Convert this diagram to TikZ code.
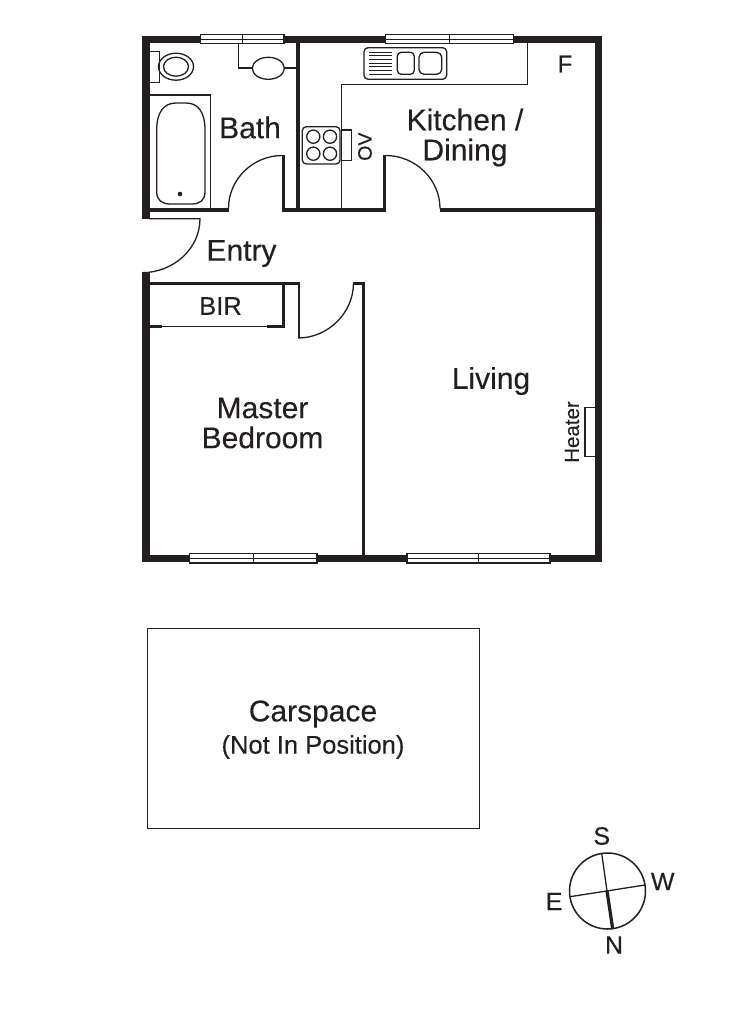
\documentclass[tikz,border=0pt]{standalone}
\usepackage{fontspec}
\setmainfont{Liberation Sans}[FakeBold=0.15]
\definecolor{ink}{HTML}{231F20}
\tikzset{
  wall/.style={fill=ink,draw=none},
  thinline/.style={draw=ink,line width=1.3pt},
  doorarc/.style={draw=ink,line width=1.3pt},
  win/.style={draw=ink,fill=white,line width=1.1pt},
  lab/.style={text=ink,inner sep=0pt,align=center},
  big/.style={lab,font=\fontsize{30}{30}\selectfont},
  small/.style={lab,font=\fontsize{25.5}{27}\selectfont},
  compasslab/.style={lab,font=\fontsize{25}{25}\selectfont},
}
\newcommand{\wallrect}[4]{\fill[wall] (#1,#2) rectangle (#3,#4);}
\newcommand{\windowh}[4]{% x1,x2,y1,y2
  \pgfmathsetmacro{\wmx}{(#1+#2)/2}\pgfmathsetmacro{\wmy}{(#3+#4)/2}
  \draw[win] (#1,#3) rectangle (#2,#4);
  \draw[draw=ink,line width=1pt] (#1,\wmy) -- (#2,\wmy);
  \draw[draw=ink,line width=1pt] (\wmx,#3) -- (\wmx,#4);}
\begin{document}
\begin{tikzpicture}[x=1pt,y=-1pt]
\useasboundingbox (0,0) rectangle (750,1027);
\fill[white] (0,0) rectangle (750,1027);
% outer walls
\wallrect{142}{36}{602}{43.3}
\wallrect{595}{36}{602}{562}
\wallrect{142}{554.5}{602}{562}
\wallrect{142}{36}{149.5}{219}
\wallrect{142}{272.7}{149.5}{562}
% interior walls
\wallrect{296}{43}{300}{211.5}
\wallrect{149}{207.8}{228.5}{211.5}
\wallrect{282.3}{207.8}{385.7}{211.5}
\wallrect{440}{207.8}{595}{211.5}
\wallrect{282.3}{155}{284.6}{211}
\wallrect{383.4}{155}{385.7}{211}
\wallrect{149}{281.8}{299.5}{285.3}
\wallrect{281.8}{282}{285}{328.3}
\wallrect{297.5}{282}{299.5}{338}
\wallrect{353}{281.8}{365}{285.3}
\wallrect{361.8}{282}{365}{555}
\wallrect{149}{325}{162}{328.3}
\wallrect{267}{325}{285}{328.3}
\draw[thinline] (162,326.6) -- (267,326.6);
% windows
\windowh{200.7}{284}{34.7}{43.7}
\windowh{385.7}{513.7}{34.7}{43.7}
\windowh{189.5}{317}{553.5}{563}
\windowh{407}{550}{553.5}{563}
% doors
\draw[doorarc] (282.5,155.5) .. controls (252.5,155.5) and (228.5,179.5) .. (228.5,208.5);
\draw[doorarc] (385.5,155.5) .. controls (415.5,155.5) and (440,179.5) .. (440,208.5);
\draw[doorarc] (149,218.7) -- (200,218.7) .. controls (200,249) and (173,272.7) .. (142,272.7);
\draw[doorarc] (298,338) .. controls (328,338) and (353.5,313) .. (353.5,283);
% toilet
\draw[thinline] (149,51.7) rectangle (159.3,82.3);
\draw[thinline] (176,66.7) ellipse [x radius=17.5,y radius=13.5];
\draw[thinline] (176,66.7) ellipse [x radius=12.5,y radius=9.5];
% basin
\draw[thinline] (238.7,43) -- (238.7,68) -- (296,68);
\draw[thinline,fill=white] (268.3,68.3) ellipse [x radius=16,y radius=11];
% bath
\draw[thinline] (149,95) -- (210.7,95) -- (210.7,208);
\draw[thinline] (156.7,130) .. controls (156.7,112) and (164,103) .. (176,103) -- (186,103) .. controls (198,103) and (205,112) .. (205,130) -- (205,192) .. controls (205,200) and (200,204) .. (192,204) -- (170,204) .. controls (162,204) and (156.7,200) .. (156.7,192) -- cycle;
\fill[ink] (180,194) circle (2.3);
% kitchen bench
\draw[thinline] (341.7,208) -- (341.7,84.3) -- (527.3,84.3) -- (527.3,43);
% sink
\draw[thinline,rounded corners=4pt] (364,47.7) rectangle (446.7,79.3);
\draw[thinline,rounded corners=4pt] (397.3,52.3) rectangle (414.3,74.3);
\draw[thinline,rounded corners=5pt] (419,52.3) rectangle (441.7,74.3);
\foreach \yy in {52.3,56,59.6,63.3,67,70.6,74.3}
  \draw[draw=ink,line width=1pt] (369.3,\yy) -- (392.3,\yy);
% cooktop
\draw[thinline,rounded corners=4pt] (302.3,126.7) rectangle (340,164);
\foreach \cx/\cy in {313.3/136.7,330/136.7,313.3/153.7,330/153.7}
  \draw[thinline] (\cx,\cy) circle (6.6);
\draw[thinline] (341.7,130) rectangle (351.7,160.7);
% heater
\draw[thinline] (595,407.3) -- (585,407.3) -- (585,456.7) -- (595,456.7);
% carspace
\draw[draw=ink,line width=0.9pt] (147,628) rectangle (479,828);
% compass
\draw[draw=ink,line width=1.5pt] (607.5,891) circle (38);
\coordinate (compS) at (601.7,853.3);
\coordinate (compN) at (612.7,929);
\coordinate (compC) at (607,891);
\coordinate (compE) at (570,896.7);
\coordinate (compW) at (645,885);
\draw[thinline] (compS) -- (compC);
\draw[draw=ink,line width=3.2pt] (compC) -- (compN);
\draw[thinline] (compE) -- (compW);
% labels
\node[big] (bath) at (250,127.5) {Bath};
\node[big] (kitchen) at (465,137.5) {Kitchen /\\Dining};
\node[big] (entry) at (241.5,253.5) {Entry};
\node[small] (bir) at (220.5,306) {BIR};
\node[big] (living) at (491,381) {Living};
\node[big] (master) at (262.5,423) {Master\\Bedroom};
\node[big] (carspace) at (313,714) {Carspace};
\node[small] (notin) at (313,747) {(Not In Position)};
\node[lab,font=\fontsize{24}{24}\selectfont] (fridge) at (565,64) {F};
\node[lab,rotate=90,font=\fontsize{19.5}{20}\selectfont] (ov) at (365,146.7) {OV};
\node[lab,rotate=90,font=\fontsize{20.5}{20}\selectfont] (heater) at (572,432) {Heater};
\node[compasslab] (s) at (601.7,836) {S};
\node[compasslab] (w) at (662.7,881.5) {W};
\node[compasslab] (e) at (554,901.5) {E};
\node[compasslab] (n) at (614,945) {N};
\end{tikzpicture}
\end{document}
